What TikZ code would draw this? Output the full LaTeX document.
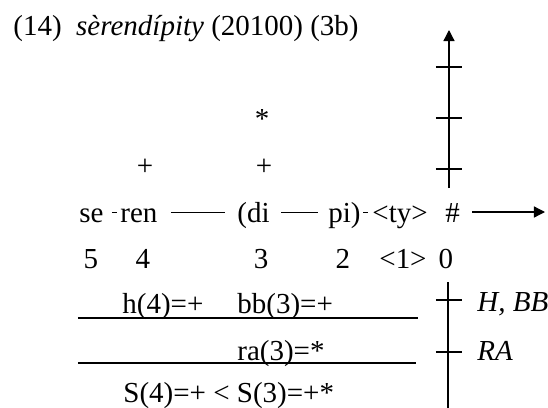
\documentclass[tikz,border=0pt]{standalone}
\usepackage{fontspec}
\setmainfont{Liberation Serif}
\usetikzlibrary{arrows.meta}

\begin{document}
\begin{tikzpicture}[x=0.5pt,y=-0.5pt,font=\fontsize{14.5}{17}\selectfont,
  txt/.style={inner sep=0pt,anchor=base west},
  ctr/.style={inner sep=0pt,anchor=base},
  syl/.style={txt,text height=12pt,text depth=2pt},
  link/.style={line width=0.5pt},
  axis/.style={line width=0.65pt},
  rule/.style={line width=0.9pt},
  tip/.style={-{Triangle[length=5.5pt,width=5.5pt]}}]
  \useasboundingbox (0,0) rectangle (548,408);
  % Title
  \node[txt] (title) at (13,35) {(14)\ \ \textit{sèrendípity} (20100) (3b)};
  % Grid with its marks
  \draw[axis,tip] (449,188) -- (449,30);
  \foreach \y in {67,118,169}
    \draw[axis] (436,\y) -- (462,\y);
  \node[ctr] (plusren) at (145,175) {+};
  \node[ctr] (plusdi) at (264,175) {+};
  \node[ctr] (stardi) at (262,128) {*};
  % Syllables
  \node[syl] (se) at (79,222) {se};
  \node[syl] (ren) at (120,222) {ren};
  \node[syl] (di) at (237,222) {(di};
  \node[syl] (pi) at (328,222) {pi)};
  \node[syl] (ty) at (372,222) {<ty>};
  \node[syl] (hash) at (445,222) {\#};
  \coordinate (xend) at (545,212);
  \draw[link,shorten <=4pt,shorten >=1.5pt] (se) -- (ren);
  \draw[link,shorten <=6.5pt,shorten >=6pt] (ren) -- (di);
  \draw[link,shorten <=5.5pt,shorten >=5pt] (di) -- (pi);
  \draw[link,shorten <=1pt,shorten >=2pt] (pi) -- (ty);
  \draw[axis,tip,shorten <=6pt] (hash) -- (xend);
  % Positions
  \foreach \x/\t [count=\i] in {91/5,143/4,261/3,343/2,403/<1>,446/0}
    \node[ctr] (num\i) at (\x,268) {\t};
  % Constraints
  \draw[rule] (78,318) -- (418,318);
  \draw[rule] (78,363) -- (416,363);
  \node[txt] (hren) at (122,313) {h(4)=+};
  \node[txt] (bbdi) at (237,313) {bb(3)=+};
  \node[txt] (radi) at (237,360) {ra(3)=*};
  \node[txt] (score) at (123,402) {S(4)=+ < S(3)=+*};
  \draw[axis] (448,282) -- (448,410);
  \foreach \y in {300,352}
    \draw[axis] (436,\y) -- (462,\y);
  \node[txt] (hbb) at (477,311) {\textit{H, BB}};
  \node[txt] (ra) at (477,360) {\textit{RA}};
\end{tikzpicture}
\end{document}
